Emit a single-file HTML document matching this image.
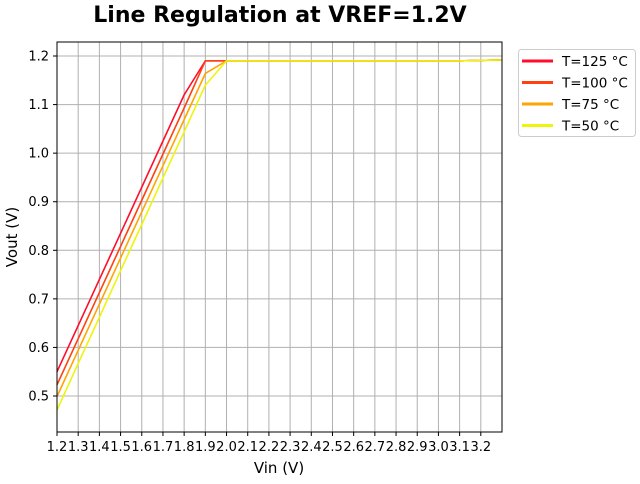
<!DOCTYPE html>
<html><head><meta charset="utf-8"><style>
body{margin:0;background:#fff;font-family:"DejaVu Sans","Liberation Sans",sans-serif}
svg text{font-family:"DejaVu Sans","Liberation Sans",sans-serif}
</style></head><body>
<svg id="c" width="640" height="480" viewBox="0 0 640 480">
<text x="280" y="22" text-anchor="middle" font-size="22" font-weight="bold">Line Regulation at VREF=1.2V</text>
<g id="grid"></g><g id="series"></g>
<rect x="57" y="42" width="445" height="390" fill="none" stroke="#000" stroke-width="1"/>
<g id="ticks"></g>
<text x="279" y="473" text-anchor="middle" font-size="15">Vin (V)</text>
<text transform="translate(17,237) rotate(-90)" text-anchor="middle" font-size="15">Vout (V)</text>
<g id="legend"></g>
</svg>
<script>
const vin=[1.2,1.3,1.4,1.5,1.6,1.7,1.8,1.9,2.0,2.1,2.2,2.3,2.4,2.5,2.6,2.7,2.8,2.9,3.0,3.1,3.2,3.3];
const t125=[0.55,0.645,0.74,0.835,0.93,1.025,1.12,1.19,1.19,1.19,1.19,1.19,1.19,1.19,1.19,1.19,1.19,1.19,1.19,1.19,1.191,1.192];
const t100=[0.523,0.618,0.713,0.808,0.903,0.998,1.093,1.19,1.19,1.19,1.19,1.19,1.19,1.19,1.19,1.19,1.19,1.19,1.19,1.19,1.191,1.192];
const t75=[0.499,0.594,0.689,0.784,0.879,0.974,1.069,1.164,1.19,1.19,1.19,1.19,1.19,1.19,1.19,1.19,1.19,1.19,1.19,1.19,1.191,1.192];
const t50=[0.471,0.567,0.662,0.758,0.853,0.949,1.044,1.14,1.19,1.19,1.19,1.19,1.19,1.19,1.19,1.19,1.19,1.19,1.19,1.19,1.191,1.192];
const seriesNames=["T=125 °C","T=100 °C","T=75 °C","T=50 °C"];
const seriesColors=["#ff0d2a","#ff4010","#ffa400","#ecf50a"];
const xTicks=["1.2","1.3","1.4","1.5","1.6","1.7","1.8","1.9","2.0","2.1","2.2","2.3","2.4","2.5","2.6","2.7","2.8","2.9","3.0","3.1","3.2"];
const yTicks=["0.5","0.6","0.7","0.8","0.9","1.0","1.1","1.2"];
const NS="http://www.w3.org/2000/svg";
const X=v=>57+(v-1.2)/(3.3-1.2)*445;
const Y=v=>396-(v-0.5)*485.7;
function mk(tag,attrs,parent){const e=document.createElementNS(NS,tag);for(const k in attrs)e.setAttribute(k,attrs[k]);parent.appendChild(e);return e;}
const grid=document.getElementById('grid'),ticks=document.getElementById('ticks');
xTicks.forEach(t=>{const x=X(+t);
 const g=mk('line',{x1:x,x2:x,y1:42,y2:432,stroke:'#b0b0b0','stroke-width':1},grid);
 
 mk('line',{x1:x,x2:x,y1:432,y2:436,stroke:'#000'},ticks);
 const l=mk('text',{x:x,y:451,'text-anchor':'middle','font-size':13},ticks);l.textContent=t;
 });
yTicks.forEach(t=>{const y=Y(+t);
 const g=mk('line',{x1:57,x2:502,y1:y,y2:y,stroke:'#b0b0b0','stroke-width':1},grid);
 
 mk('line',{x1:53,x2:57,y1:y,y2:y,stroke:'#000'},ticks);
 const l=mk('text',{x:49,y:y+4.5,'text-anchor':'end','font-size':13},ticks);l.textContent=t;
 });
const data=[t125,t100,t75,t50];const ser=document.getElementById('series');
data.forEach((d,i)=>{const p=mk('polyline',{points:d.map((v,j)=>X(vin[j])+','+Y(v)).join(' '),fill:'none',stroke:seriesColors[i],'stroke-width':1.6},ser);
 });
const lg=document.getElementById('legend');
const box=mk('rect',{x:518.5,y:49.5,width:117,height:87,rx:3,fill:'#fff',stroke:'#ccc'},lg);

seriesNames.forEach((n,i)=>{const y=61+i*21.5;
 mk('line',{x1:522,x2:553,y1:y,y2:y,stroke:seriesColors[i],'stroke-width':3},lg);
 const t=mk('text',{x:562,y:y+5,'font-size':13.5},lg);t.textContent=n;
 });
</script>
</body></html>
